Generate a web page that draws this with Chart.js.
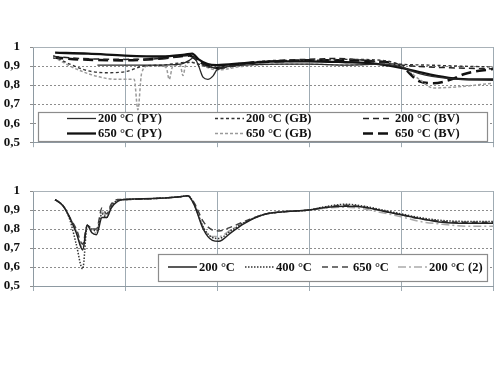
<!DOCTYPE html>
<html><head><meta charset="utf-8">
<script src="https://cdn.jsdelivr.net/npm/chart.js@4"></script>
<style>
html,body{margin:0;padding:0;background:#fff;width:500px;height:380px;overflow:hidden}
.c{position:absolute;left:0;width:500px;height:160px}
</style></head><body>
<div class="c" style="top:0"><canvas id="c1" width="500" height="160"></canvas></div>
<div class="c" style="top:160px"><canvas id="c2" width="500" height="160"></canvas></div>
<script>
// ---------- DATA ----------
const yTickLabels = ['0,5','0,6','0,7','0,8','0,9','1'];
const xTicks = [0,1,2,3,4,5];

// Top chart
const x_PY200 = [0.7,1.0,1.3,1.6,1.7,1.75,1.8,1.85,1.9,1.96,2.0,2.3,2.7,3.0,3.4,3.8,4.0,4.2,4.5,5.0];
const y_PY200 = [0.905,0.905,0.905,0.91,0.93,0.945,0.9,0.84,0.83,0.85,0.88,0.905,0.91,0.91,0.905,0.91,0.895,0.86,0.835,0.825];
const x_PY650 = [0.24,0.6,1.0,1.4,1.65,1.73,1.8,1.9,2.0,2.3,2.7,3.0,3.4,3.66,4.0,4.3,4.57,4.8,5.0];
const y_PY650 = [0.97,0.965,0.955,0.95,0.96,0.965,0.935,0.91,0.905,0.915,0.925,0.925,0.92,0.915,0.89,0.857,0.835,0.83,0.83];
const x_GB200 = [0.22,0.4,0.6,0.8,1.0,1.2,1.4,1.7,1.8,1.9,2.0,2.3,2.7,3.0,3.4,3.8,4.0,4.3,4.6,5.0];
const y_GB200 = [0.955,0.91,0.875,0.865,0.87,0.9,0.905,0.92,0.91,0.895,0.89,0.915,0.93,0.93,0.935,0.93,0.91,0.905,0.9,0.895];
const x_GB650 = [0.22,0.4,0.6,0.8,0.95,1.1,1.14,1.18,1.25,1.4,1.45,1.48,1.52,1.6,1.63,1.66,1.72,1.85,2.0,2.3,2.7,3.0,3.4,3.8,4.0,4.2,4.35,4.6,5.0];
const y_GB650 = [0.95,0.9,0.86,0.835,0.83,0.83,0.67,0.86,0.9,0.9,0.89,0.83,0.9,0.905,0.85,0.905,0.92,0.9,0.88,0.9,0.91,0.91,0.905,0.91,0.9,0.83,0.785,0.79,0.81];
const x_BV200 = [0.22,0.5,1.0,1.4,1.7,1.8,1.9,2.0,2.3,2.7,3.0,3.3,3.7,4.0,4.3,4.6,5.0];
const y_BV200 = [0.95,0.94,0.935,0.94,0.955,0.93,0.9,0.89,0.91,0.93,0.935,0.94,0.925,0.905,0.895,0.89,0.885];
const x_BV650 = [0.22,0.5,1.0,1.4,1.7,1.8,1.9,2.0,2.3,2.7,3.0,3.3,3.7,4.0,4.2,4.35,4.55,4.7,5.0];
const y_BV650 = [0.945,0.935,0.93,0.94,0.955,0.925,0.9,0.89,0.915,0.925,0.93,0.93,0.925,0.9,0.82,0.81,0.83,0.86,0.885];

// Bottom chart (shared x positions)
const x_B = [0.24,0.33,0.4,0.47,0.54,0.59,0.64,0.69,0.75,0.8,0.85,0.92,1.0,1.3,1.6,1.68,1.75,1.85,1.95,2.02,2.15,2.3,2.5,2.7,3.0,3.2,3.4,3.6,3.8,4.0,4.2,4.45,4.7,5.0];
const y_200  = [0.955,0.92,0.86,0.78,0.69,0.82,0.78,0.77,0.86,0.86,0.91,0.945,0.955,0.96,0.97,0.975,0.93,0.8,0.74,0.735,0.78,0.83,0.875,0.89,0.9,0.915,0.92,0.915,0.895,0.875,0.855,0.835,0.83,0.83];
const y_400  = [0.955,0.92,0.85,0.72,0.59,0.82,0.8,0.79,0.88,0.86,0.92,0.95,0.955,0.96,0.97,0.975,0.935,0.81,0.755,0.75,0.79,0.835,0.875,0.89,0.9,0.92,0.93,0.92,0.9,0.88,0.86,0.845,0.84,0.84];
const y_650  = [0.955,0.92,0.86,0.8,0.72,0.82,0.8,0.8,0.91,0.88,0.93,0.955,0.955,0.96,0.97,0.975,0.94,0.84,0.795,0.79,0.81,0.84,0.875,0.89,0.9,0.915,0.925,0.915,0.895,0.875,0.855,0.84,0.835,0.835];
const y_200b = [0.955,0.92,0.86,0.79,0.7,0.82,0.79,0.78,0.89,0.87,0.92,0.95,0.955,0.96,0.97,0.975,0.93,0.81,0.76,0.76,0.795,0.835,0.875,0.89,0.9,0.91,0.915,0.905,0.885,0.865,0.84,0.825,0.815,0.815];

const topLabels = ['200 °C (PY)','650 °C (PY)','200 °C (GB)','650 °C (GB)','200 °C (BV)','650 °C (BV)'];
const botLabels = ['200 °C','400 °C','650 °C','200 °C (2)'];

// ---------- HELPERS ----------
const pts = (xs, ys) => xs.map((x,i)=>({x, y: ys[i]}));
const LFONT = 'bold 12.5px "Liberation Serif", "Times New Roman", serif';

function ds(label, data, color, width, dash){
  return {label, data, borderColor:color, borderWidth:width, borderDash:dash,
    pointRadius:0, cubicInterpolationMode:'monotone', fill:false, borderCapStyle:'butt'};
}

const framePlugin = {
  id:'frame',
  afterDraw(chart, args, opts){
    const {ctx, chartArea:a} = chart;
    ctx.save();
    ctx.strokeStyle = '#a9b2b8'; ctx.lineWidth = 1;
    ctx.beginPath(); ctx.moveTo(a.left, a.top+0.5); ctx.lineTo(a.right, a.top+0.5); ctx.stroke();
    // legend box
    const b = opts.box;
    ctx.fillStyle = '#fff';
    ctx.fillRect(b[0], b[1], b[2]-b[0], b[3]-b[1]);
    ctx.strokeStyle = '#8c8c8c'; ctx.lineWidth = 1.2;
    ctx.strokeRect(b[0]+0.5, b[1]+0.5, b[2]-b[0], b[3]-b[1]);
    ctx.font = LFONT; ctx.textBaseline = 'middle'; ctx.textAlign = 'left'; ctx.fillStyle = '#111';
    opts.items.forEach(it => {
      const d = chart.data.datasets[it.i];
      ctx.save();
      ctx.strokeStyle = d.borderColor; ctx.lineWidth = d.borderWidth;
      ctx.setLineDash(d.borderDash || []);
      ctx.beginPath(); ctx.moveTo(it.x, it.y); ctx.lineTo(it.x + it.len, it.y); ctx.stroke();
      ctx.restore();
      ctx.fillText(d.label, it.x + it.len + 2, it.y + 0.5);
    });
    ctx.restore();
  }
};

function makeOptions(padTop, padBottom, legend){
  return {
    responsive:false, animation:false,
    layout:{padding:{left:0, right:7, top:padTop, bottom:padBottom}},
    plugins:{legend:{display:false}, tooltip:{enabled:false}, frame:legend},
    scales:{
      x:{type:'linear', min:0, max:5,
        afterBuildTicks:(s)=>{ s.ticks = xTicks.map(v=>({value:v})); },
        ticks:{display:false},
        grid:{color:'#9fabb3', lineWidth:1, tickLength:5, drawTicks:true},
        border:{display:true, color:'#8e9aa2', width:1}},
      y:{min:0.5, max:1,
        afterFit:(s)=>{ s.width = 33; },
        afterBuildTicks:(s)=>{ s.ticks = yTickLabels.map((t,i)=>({value:0.5+i*0.1})); },
        ticks:{padding:10, color:'#111', font:{family:'"Liberation Serif", "Times New Roman", serif', size:13, weight:'bold'},
          callback:(v)=>yTickLabels[Math.round((v-0.5)*10)]},
        grid:{color:'#8d8d8d', lineWidth:1, tickLength:3},
        border:{display:true, color:'#8e9aa2', width:1, dash:[2,2]}}
    }
  };
}

// ---------- TOP CHART ----------
new Chart(document.getElementById('c1'), {
  type:'line',
  data:{datasets:[
    ds(topLabels[0], pts(x_PY200, y_PY200), '#2a2a2a', 1.3, []),
    ds(topLabels[1], pts(x_PY650, y_PY650), '#111', 2.3, []),
    ds(topLabels[2], pts(x_GB200, y_GB200), '#333', 1.4, [3,2.5]),
    ds(topLabels[3], pts(x_GB650, y_GB650), '#9a9a9a', 1.5, [3,2]),
    ds(topLabels[4], pts(x_BV200, y_BV200), '#222', 1.5, [6,4]),
    ds(topLabels[5], pts(x_BV650, y_BV650), '#111', 2.6, [10,5])
  ]},
  options: makeOptions(47, 12, {
    box:[38,112,487,141],
    items:[
      {i:0, x:67, y:118.5, len:29},{i:1, x:67, y:133.5, len:29},
      {i:2, x:215, y:118.5, len:29},{i:3, x:215, y:133.5, len:29},
      {i:4, x:363, y:118.5, len:30},{i:5, x:363, y:133.5, len:30}
    ]}),
  plugins:[framePlugin]
});

// ---------- BOTTOM CHART ----------
new Chart(document.getElementById('c2'), {
  type:'line',
  data:{datasets:[
    ds(botLabels[0], pts(x_B, y_200), '#222', 1.5, []),
    ds(botLabels[1], pts(x_B, y_400), '#333', 1.5, [1.5,1.5]),
    ds(botLabels[2], pts(x_B, y_650), '#444', 1.5, [6,4]),
    ds(botLabels[3], pts(x_B, y_200b), '#aaaaaa', 1.5, [8,3,2,3])
  ]},
  options: makeOptions(31, 29, {
    box:[158,94,487,121],
    items:[
      {i:0, x:168, y:107, len:29},{i:1, x:245, y:107, len:29},
      {i:2, x:322, y:107, len:29},{i:3, x:398, y:107, len:29}
    ]}),
  plugins:[framePlugin]
});
</script>
</body></html>
